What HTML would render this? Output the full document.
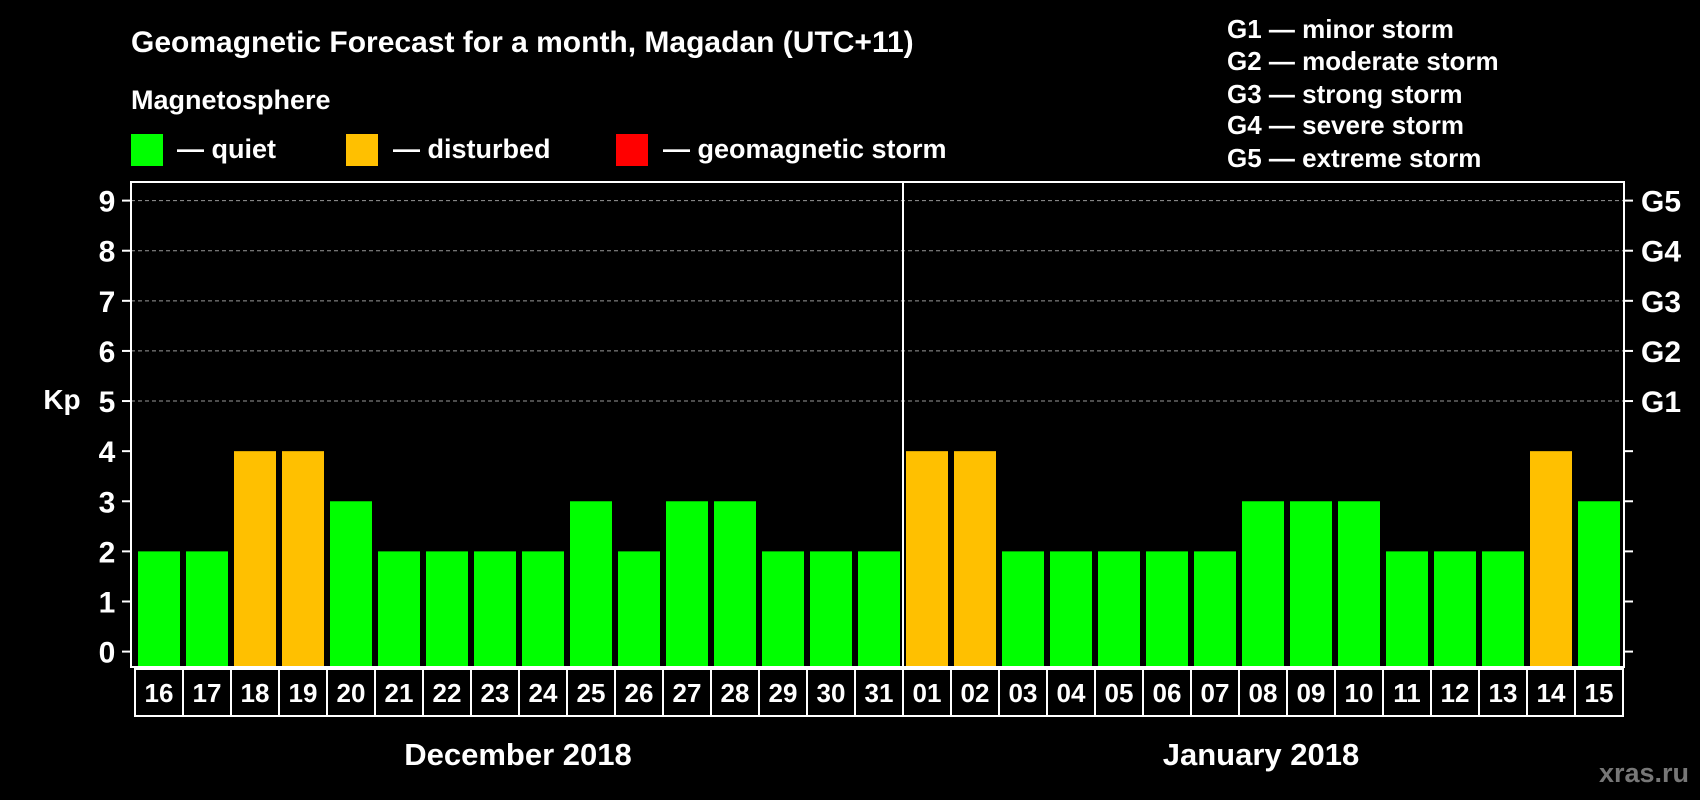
<!DOCTYPE html>
<html><head><meta charset="utf-8"><style>
html,body{margin:0;padding:0;background:#000;}
svg{display:block;font-family:"Liberation Sans",Arial,sans-serif;font-weight:bold;}
</style></head><body>
<svg id="chart" width="1700" height="800" viewBox="0 0 1700 800">
<rect width="1700" height="800" fill="#000"/>
<text x="131" y="52" fill="#fff" font-size="30">Geomagnetic Forecast for a month, Magadan (UTC+11)</text>
<text x="131" y="109" fill="#fff" font-size="27">Magnetosphere</text>
<g><rect x="131" y="134" width="32" height="32" fill="#00ff00"/><text x="177" y="158" fill="#fff" font-size="27">— quiet</text></g>
<g><rect x="346" y="134" width="32" height="32" fill="#ffc000"/><text x="393" y="158" fill="#fff" font-size="27">— disturbed</text></g>
<g><rect x="616" y="134" width="32" height="32" fill="#ff0000"/><text x="663" y="158" fill="#fff" font-size="27">— geomagnetic storm</text></g>
<g fill="#fff" font-size="26">
<text x="1227" y="38">G1 — minor storm</text>
<text x="1227" y="70">G2 — moderate storm</text>
<text x="1227" y="103">G3 — strong storm</text>
<text x="1227" y="134">G4 — severe storm</text>
<text x="1227" y="167">G5 — extreme storm</text>
</g>
<text x="62" y="409" fill="#fff" font-size="28" text-anchor="middle">Kp</text>
<g id="grid"></g><g id="bars"></g><g id="axes"></g>
<text x="518" y="765" fill="#fff" font-size="31" text-anchor="middle">December 2018</text>
<text x="1261" y="765" fill="#fff" font-size="31" text-anchor="middle">January 2018</text>
<text x="1689" y="782" fill="#777" font-size="27" text-anchor="end">xras.ru</text>
</svg>
<script>
const days=["16","17","18","19","20","21","22","23","24","25","26","27","28","29","30","31","01","02","03","04","05","06","07","08","09","10","11","12","13","14","15"];
const kp=[2,2,4,4,3,2,2,2,2,3,2,3,3,2,2,2,4,4,2,2,2,2,2,3,3,3,2,2,2,4,3];
const yTicks=["0","1","2","3","4","5","6","7","8","9"];
const gLabels=["G1","G2","G3","G4","G5"];
const NS="http://www.w3.org/2000/svg";
const L=131,R=1624,T=182,B=667,x0=138,step=48,bw=42;
const y=v=>651.6-v*(451/9);
const x=i=>x0+i*step;
function mk(t,a,p){const e=document.createElementNS(NS,t);for(const k in a)e.setAttribute(k,a[k]);p.appendChild(e);return e;}
const grid=document.getElementById('grid'),bars=document.getElementById('bars'),axes=document.getElementById('axes');
for(let v=5;v<=9;v++){const l=mk('line',{x1:L,x2:R,y1:y(v),y2:y(v),stroke:'#999','stroke-width':1,'stroke-dasharray':'4,3'},grid);

}
kp.forEach((v,i)=>{const c=v>=5?'#ff0000':v>=4?'#ffc000':'#00ff00';
const r=mk('rect',{x:x(i),y:y(v),width:bw,height:B-y(v),fill:c},bars);

});
const box=mk('rect',{x:L,y:T,width:R-L,height:B-T,fill:'none',stroke:'#fff','stroke-width':2},axes);


const div=mk('line',{x1:x(16)-3,x2:x(16)-3,y1:T,y2:B,stroke:'#fff','stroke-width':2},axes);


yTicks.forEach((t,i)=>{mk('line',{x1:122,x2:L,y1:y(i),y2:y(i),stroke:'#fff','stroke-width':2},axes);
mk('line',{x1:R,x2:1633,y1:y(i),y2:y(i),stroke:'#fff','stroke-width':2},axes);
const tx=mk('text',{x:107,y:y(i)+11,fill:'#fff','font-size':30,'text-anchor':'middle'},axes);tx.textContent=t;

});
gLabels.forEach((g,i)=>{const tx=mk('text',{x:1641,y:y(i+5)+11,fill:'#fff','font-size':30},axes);tx.textContent=g;

});
const lb=mk('rect',{x:135,y:669,width:R-1-135,height:47,fill:'none',stroke:'#fff','stroke-width':2},axes);


days.forEach((d,i)=>{if(i>0)mk('line',{x1:x(i)-3,x2:x(i)-3,y1:669,y2:716,stroke:'#fff','stroke-width':2},axes);
const tx=mk('text',{x:x(i)+bw/2,y:702,fill:'#fff','font-size':26,'text-anchor':'middle'},axes);tx.textContent=d;

});
</script>
</body></html>
